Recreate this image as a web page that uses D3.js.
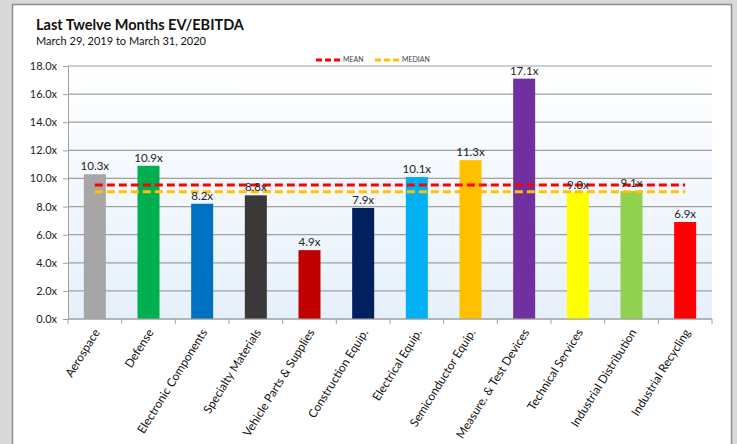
<!DOCTYPE html>
<html>
<head>
<meta charset="utf-8">
<script src="https://cdn.jsdelivr.net/npm/d3@7"></script>
<style>
  body { margin: 0; background: #d9d9d9; }
  svg { display: block; font-family: Lato, "Open Sans", sans-serif; }
</style>
</head>
<body>
<div id="chart"></div>
<script>
// chart data
const categories = ["Aerospace", "Defense", "Electronic Components", "Specialty Materials",
  "Vehicle Parts & Supplies", "Construction Equip.", "Electrical Equip.", "Semiconductor Equip.",
  "Measure. & Test Devices", "Technical Services", "Industrial Distribution", "Industrial Recycling"];
const values = [10.3, 10.9, 8.2, 8.8, 4.9, 7.9, 10.1, 11.3, 17.1, 9.0, 9.1, 6.9];
const barColors = ["#a6a6a6", "#00b050", "#0070c0", "#3b3838", "#c00000", "#002060",
  "#00b0f0", "#ffc000", "#7030a0", "#ffff00", "#92d050", "#ff0000"];
const yTicks = [0, 2, 4, 6, 8, 10, 12, 14, 16, 18];

function init() {
  const W = 737, H = 444;
  const margin = { top: 66, right: 25, bottom: 125, left: 68 };
  const width = 712 - margin.left;
  const height = 319 - margin.top;

  const root = d3.select("#chart").append("svg")
    .attr("width", W).attr("height", H);

  // white card with border
  root.append("rect")
    .attr("x", 12.5).attr("y", 4.5).attr("width", 719).attr("height", 460)
    .attr("fill", "#fff").attr("stroke", "#8c8c8c").attr("stroke-width", 1.5);

  root.append("text").attr("x", 36).attr("y", 30)
    .style("font-size", "14.5px").style("font-weight", "bold").style("fill", "#111")
    .text("Last Twelve Months EV/EBITDA");
  root.append("text").attr("x", 36).attr("y", 45)
    .style("font-size", "11px").style("fill", "#111")
    .text("March 29, 2019 to March 31, 2020");

  const defs = root.append("defs");
  const grad = defs.append("linearGradient").attr("id", "bg")
    .attr("x1", 0).attr("y1", 0).attr("x2", 0).attr("y2", 1);
  grad.append("stop").attr("offset", "0%").attr("stop-color", "#ffffff");
  grad.append("stop").attr("offset", "100%").attr("stop-color", "#e6f0fb");

  const svg = root.append("g")
    .attr("transform", `translate(${margin.left},${margin.top})`);

  const x = d3.scaleBand().domain(categories).range([0, width]).paddingInner(0.59).paddingOuter(0.295);
  const xb = d3.scaleBand().domain(categories).range([0, width]);
  const y = d3.scaleLinear().domain([0, 18]).range([height, 0]);

  svg.append("rect").attr("width", width).attr("height", height).attr("fill", "url(#bg)");

  // gridlines
  svg.selectAll(".grid").data(yTicks).enter().append("line")
    .attr("x1", 0).attr("x2", width)
    .attr("y1", d => y(d)).attr("y2", d => y(d))
    .style("stroke", "#a0a0a0").style("stroke-width", 1.2);

  // y axis
  const yAxis = svg.append("g")
    .call(d3.axisLeft(y).tickValues(yTicks).tickSize(5).tickPadding(6)
      .tickFormat(d => d3.format(".1f")(d) + "x"));
  yAxis.selectAll("line, path").style("stroke", "#a0a0a0");
  yAxis.select(".domain").attr("d", `M-5,0.5H0.5V${height}`);
  yAxis.selectAll("text").style("font-size", "11px").style("fill", "#222")
    .style("font-family", "Lato, sans-serif");

  // bars
  svg.selectAll(".bar").data(values).enter().append("rect")
    .attr("x", (d, i) => x(categories[i]))
    .attr("y", d => y(d))
    .attr("width", x.bandwidth())
    .attr("height", d => height - y(d))
    .style("fill", (d, i) => barColors[i]);

  // bottom axis with ticks at band edges
  svg.append("line").attr("x1", 0).attr("x2", width).attr("y1", height).attr("y2", height)
    .style("stroke", "#a0a0a0").style("stroke-width", 1.2);
  const edges = categories.map(c => xb(c)).concat([width]);
  svg.selectAll(".xtick").data(edges).enter().append("line")
    .attr("x1", d => d).attr("x2", d => d).attr("y1", height).attr("y2", height + 5)
    .style("stroke", "#a0a0a0");

  svg.selectAll(".xlabel").data(categories).enter().append("text")
    .attr("transform", d => `translate(${xb(d) + xb.bandwidth() / 2 + 2},${height + 11}) rotate(-58)`)
    .attr("text-anchor", "end").attr("dy", "0.35em")
    .style("font-size", "11.8px").style("fill", "#111")
    .text(d => d);

  // mean and median lines
  const mean = d3.mean(values), median = d3.median(values);
  const cx0 = xb(categories[0]) + xb.bandwidth() / 2;
  const cx1 = xb(categories[categories.length - 1]) + xb.bandwidth() / 2;
  [[mean, "#ff0000"], [median, "#ffc000"]].forEach(([v, c]) => {
    svg.append("line").attr("x1", cx0).attr("x2", cx1).attr("y1", y(v)).attr("y2", y(v))
      .style("stroke", c).style("stroke-width", 3).style("stroke-dasharray", "8,4");
  });

  // value labels
  svg.selectAll(".val").data(values).enter().append("text")
    .attr("x", (d, i) => x(categories[i]) + x.bandwidth() / 2)
    .attr("y", d => y(d) - 4)
    .attr("text-anchor", "middle")
    .style("font-size", "11.5px").style("fill", "#222")
    .text(d => d3.format(".1f")(d) + "x");

  // legend
  const legend = root.append("g").attr("transform", "translate(316,60)");
  [["MEAN", "#ff0000", 0], ["MEDIAN", "#ffc000", 59]].forEach(([t, c, dx]) => {
    legend.append("line").attr("x1", dx).attr("x2", dx + 25).attr("y1", 0).attr("y2", 0)
      .style("stroke", c).style("stroke-width", 3).style("stroke-dasharray", "6,3");
    legend.append("text").attr("x", dx + 27).attr("y", 0).attr("dy", "0.35em")
      .style("font-size", "7px").style("fill", "#444").text(t);
  });
}

window.onload = init;
</script>
</body>
</html>
